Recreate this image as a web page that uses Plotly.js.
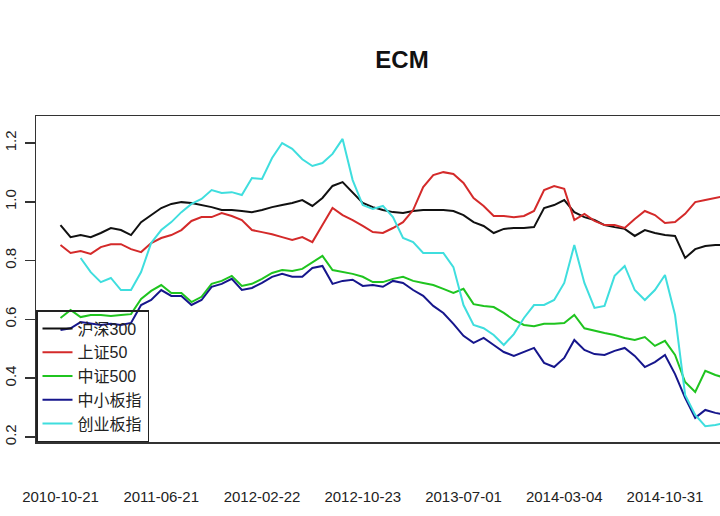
<!DOCTYPE html>
<html>
<head>
<meta charset="utf-8">
<script src="https://cdn.plot.ly/plotly-3.0.1.min.js"></script>
<style>
html,body{margin:0;padding:0;background:#fff;overflow:hidden;}
#chart{width:800px;height:516px;}
</style>
</head>
<body>
<div id="chart"></div>
<script>
// trading-day index of each sample (every 16 trading days)
const dayIndex = Array.from({length: 67}, (_, k) => k * 16);

const tickDays = [0, 160, 320, 480, 640, 800, 960];
const tickLabels = ["2010-10-21", "2011-06-21", "2012-02-22", "2012-10-23", "2013-07-01", "2014-03-04", "2014-10-31"];

const seriesNames = ["沪深300", "上证50", "中证500", "中小板指", "创业板指"];
const seriesColors = ["#111111", "#d42a2a", "#1fc41f", "#16168c", "#3fdede"];

const hs300 = [0.921,0.880,0.887,0.880,0.894,0.911,0.904,0.887,0.931,0.955,0.979,0.993,0.999,0.996,0.989,0.982,0.972,0.972,0.969,0.965,0.972,0.982,0.989,0.996,1.006,0.986,1.013,1.054,1.067,1.030,0.996,0.982,0.972,0.965,0.962,0.969,0.972,0.972,0.972,0.969,0.955,0.931,0.918,0.894,0.908,0.911,0.911,0.914,0.979,0.989,1.006,0.965,0.948,0.938,0.921,0.914,0.908,0.884,0.904,0.894,0.887,0.884,0.809,0.839,0.850,0.853,0.853];

const sz50 = [0.853,0.826,0.833,0.823,0.846,0.856,0.856,0.839,0.829,0.860,0.877,0.887,0.904,0.935,0.948,0.948,0.962,0.952,0.938,0.904,0.897,0.890,0.880,0.870,0.880,0.863,0.921,0.979,0.955,0.938,0.918,0.897,0.894,0.911,0.931,0.972,1.050,1.091,1.101,1.095,1.064,1.013,0.986,0.952,0.952,0.948,0.952,0.969,1.040,1.054,1.044,0.938,0.959,0.935,0.921,0.921,0.911,0.942,0.969,0.955,0.928,0.931,0.959,0.999,1.006,1.013,1.020];

const zz500 = [0.605,0.632,0.608,0.615,0.615,0.612,0.615,0.618,0.670,0.697,0.717,0.690,0.690,0.659,0.677,0.721,0.731,0.748,0.714,0.721,0.738,0.758,0.768,0.765,0.772,0.795,0.816,0.768,0.761,0.755,0.745,0.727,0.727,0.738,0.745,0.731,0.724,0.717,0.704,0.690,0.704,0.652,0.646,0.642,0.622,0.598,0.581,0.577,0.585,0.585,0.588,0.615,0.570,0.561,0.554,0.547,0.537,0.530,0.540,0.510,0.527,0.479,0.387,0.353,0.425,0.411,0.401];

const zxb = [0.564,0.570,0.591,0.585,0.581,0.585,0.581,0.588,0.649,0.666,0.700,0.680,0.680,0.649,0.666,0.711,0.721,0.738,0.700,0.707,0.724,0.745,0.755,0.745,0.745,0.775,0.782,0.721,0.731,0.735,0.714,0.717,0.711,0.731,0.724,0.700,0.680,0.646,0.622,0.585,0.544,0.520,0.537,0.513,0.489,0.476,0.489,0.503,0.452,0.438,0.469,0.530,0.496,0.482,0.479,0.493,0.503,0.476,0.438,0.455,0.479,0.414,0.333,0.265,0.292,0.282,0.275];

const cyb = [null,null,0.809,0.761,0.727,0.741,0.700,0.700,0.761,0.860,0.904,0.931,0.965,0.993,1.010,1.040,1.030,1.033,1.023,1.081,1.078,1.149,1.200,1.180,1.145,1.122,1.132,1.163,1.214,1.074,0.989,0.976,0.986,0.948,0.877,0.863,0.826,0.826,0.826,0.778,0.649,0.581,0.570,0.547,0.513,0.550,0.605,0.649,0.649,0.666,0.724,0.853,0.724,0.639,0.646,0.748,0.782,0.700,0.666,0.700,0.751,0.615,0.343,0.275,0.237,0.241,0.248];

const allSeries = [hs300, sz50, zz500, zxb, cyb];

const traces = allSeries.map((vals, i) => ({
  type: "scatter",
  mode: "lines",
  x: dayIndex,
  y: vals,
  name: seriesNames[i],
  line: {color: seriesColors[i], width: 2},
  connectgaps: false
}));

const layout = {
  width: 800,
  height: 516,
  margin: {l: 36, r: 32, t: 116, b: 74},
  paper_bgcolor: "#ffffff",
  plot_bgcolor: "#ffffff",
  font: {family: "Liberation Sans, Arial, 'Noto Sans CJK SC', sans-serif", color: "#111"},
  title: {
    text: "<b>ECM</b>",
    font: {size: 24, color: "#111", family: "Liberation Sans, Arial, sans-serif"},
    x: 0.5, xref: "paper", xanchor: "center",
    y: 1 - 60 / 516, yref: "container", yanchor: "middle"
  },
  xaxis: {
    range: [-38.9, 1123.6],
    tickmode: "array",
    tickvals: tickDays,
    ticktext: tickLabels,
    ticks: "",
    showgrid: false,
    zeroline: false,
    showline: true,
    mirror: true,
    linecolor: "#333",
    linewidth: 1.5,
    ticklabelstandoff: 40,
    tickfont: {size: 15, color: "#222"}
  },
  yaxis: {
    range: [0.183, 1.292],
    tickmode: "array",
    tickvals: [0.2, 0.4, 0.6, 0.8, 1.0, 1.2],
    ticktext: ["0.2", "0.4", "0.6", "0.8", "1.0", "1.2"],
    ticks: "outside",
    ticklen: 10,
    tickwidth: 1.5,
    tickcolor: "#333",
    tickangle: -90,
    showgrid: false,
    zeroline: false,
    showline: true,
    mirror: true,
    linecolor: "#333",
    linewidth: 1.5,
    ticklabelstandoff: 3,
    tickfont: {size: 15, color: "#222"}
  },
  showlegend: true,
  legend: {
    x: 0, y: 0, xref: "paper", yref: "paper",
    xanchor: "left", yanchor: "bottom",
    bgcolor: "rgba(0,0,0,0)",
    bordercolor: "#222",
    borderwidth: 1.5,
    font: {size: 16, color: "#222", family: "Liberation Sans, 'Noto Sans CJK SC', sans-serif"},
    tracegroupgap: 0
  }
};

Plotly.newPlot("chart", traces, layout, {displayModeBar: false, staticPlot: true});
</script>
</body>
</html>
